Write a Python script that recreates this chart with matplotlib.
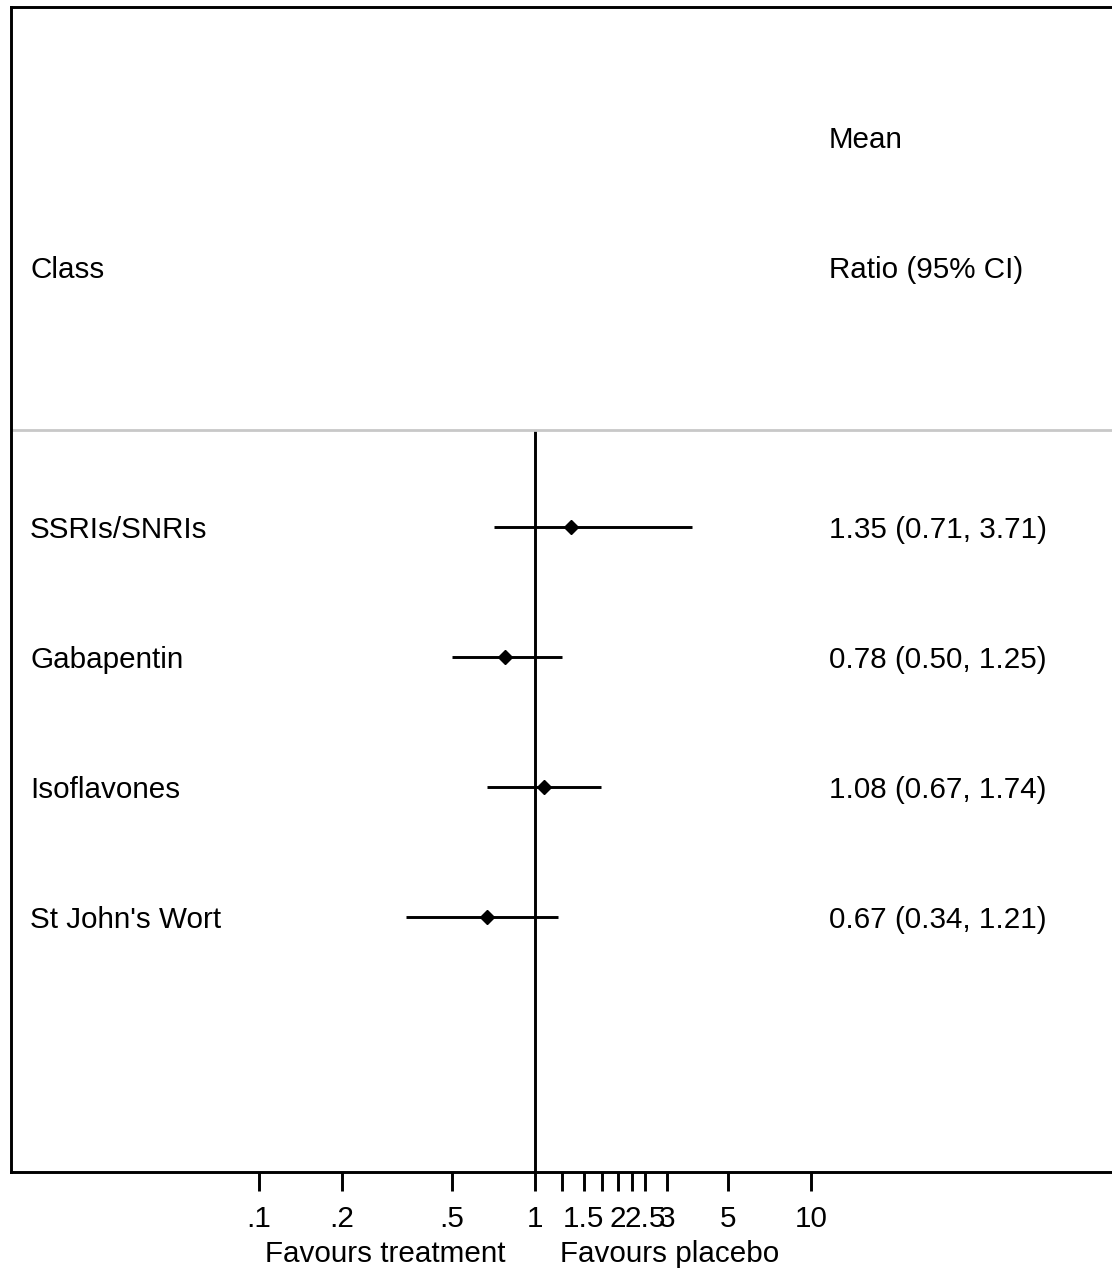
import numpy as np
import matplotlib
matplotlib.use('Agg')
import matplotlib.pyplot as plt
import matplotlib.transforms as mtransforms

plt.rcParams['font.family'] = ['Liberation Sans', 'DejaVu Sans']

classes = ['SSRIs/SNRIs', 'Gabapentin', 'Isoflavones', "St John's Wort"]
ratio = [1.35, 0.78, 1.08, 0.67]
lower = [0.71, 0.50, 0.67, 0.34]
upper = [3.71, 1.25, 1.74, 1.21]
labels = ['1.35 (0.71, 3.71)', '0.78 (0.50, 1.25)', '1.08 (0.67, 1.74)', '0.67 (0.34, 1.21)']

tick_vals = [0.1, 0.2, 0.5, 1, 1.5, 2, 2.5, 3, 5, 10]
tick_labels = ['.1', '.2', '.5', '1', '1.5', '2', '2.5', '3', '5', '10']
minor_vals = [1.25, 1.75, 2.25]

fs = 21.3
lw = 2.1
fig = plt.figure(figsize=(11.12, 12.68), dpi=100)
ax = fig.add_axes([0.0099, 0.0757, 0.9901, 0.9188])

rows = np.arange(1, len(classes) + 1)
ax.hlines(rows, lower, upper, color='black', lw=lw)
ax.plot(ratio, rows, 'D', color='black', markersize=7)
ax.vlines(1, 0.25, 6, color='black', lw=lw)
ax.axhline(0.25, color='#c8c8c8', lw=2)

ax.set_xscale('log')
ax.set_xlim(0.01263, 123.2)
ax.set_ylim(5.96, -3.0)

# text baseline placed so caps are centred on the row
trans = mtransforms.blended_transform_factory(ax.transAxes, ax.transData)
trans = mtransforms.offset_copy(trans, fig=fig, y=-0.358 * fs, units='points')
ax.text(0.0173, -1, 'Class', transform=trans, va='baseline', fontsize=fs)
ax.text(0.743, -2, 'Mean', transform=trans, va='baseline', fontsize=fs)
ax.text(0.743, -1, 'Ratio (95% CI)', transform=trans, va='baseline', fontsize=fs)
for r, c, lab in zip(rows, classes, labels):
    ax.text(0.0173, r, c, transform=trans, va='baseline', fontsize=fs)
    ax.text(0.743, r, lab, transform=trans, va='baseline', fontsize=fs)

ax.set_xticks(tick_vals + minor_vals)
ax.set_xticklabels(tick_labels + [''] * len(minor_vals), fontsize=fs)
ax.xaxis.set_minor_locator(matplotlib.ticker.NullLocator())
ax.tick_params(axis='x', length=14, width=lw, pad=10)
ax.set_yticks([])

ax.annotate('Favours treatment', xy=(1, 0), xycoords=('data', 'axes fraction'),
            xytext=(-21, -59), textcoords='offset points', ha='right', va='center', fontsize=fs)
ax.annotate('Favours placebo', xy=(1, 0), xycoords=('data', 'axes fraction'),
            xytext=(18, -59), textcoords='offset points', ha='left', va='center', fontsize=fs)

for s in ['left', 'top', 'bottom']:
    ax.spines[s].set_linewidth(lw)
ax.spines['right'].set_visible(False)

fig.savefig('out.png', dpi=100)
